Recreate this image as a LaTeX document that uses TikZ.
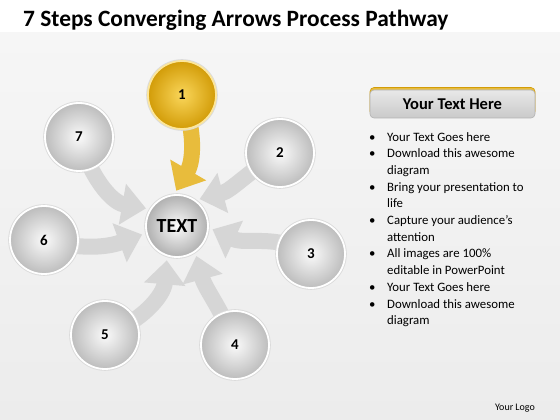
\documentclass[tikz,border=0pt]{standalone}
\usepackage{fontspec}
\setmainfont{Carlito}
\usetikzlibrary{arrows.meta}
\definecolor{goldA}{RGB}{250,214,90}
\definecolor{goldB}{RGB}{210,156,8}
\definecolor{goldC}{RGB}{232,188,60}
\definecolor{bgA}{RGB}{246,246,246}
\definecolor{bgB}{RGB}{236,236,236}
\pgfdeclarelayer{bg}
\pgfdeclarelayer{arrows}
\pgfsetlayers{bg,arrows,main}
\tikzset{
  ball/.style={circle, minimum size=68pt, inner sep=0pt, inner color=gray!4, outer color=gray!52,
    draw=white, line width=1.8pt, preaction={draw=gray!28, line width=3.6pt},
    font=\bfseries\fontsize{15}{15}\selectfont},
  goldball/.style={ball, inner color=goldA, outer color=goldB, draw=goldA!60!white},
  hubball/.style={ball, minimum size=62pt, inner color=gray!3, outer color=gray!62,
    font=\bfseries\fontsize{20}{20}\selectfont},
  arr/.style={line width=16pt, color=gray!32, -{Triangle[width=40pt,length=24pt]}, shorten >=4pt},
  goldarr/.style={arr, color=goldC},
  bodytext/.style={font=\fontsize{12.8}{16.7}\selectfont, align=left, inner sep=0pt, anchor=north west},
}
\begin{document}
\begin{tikzpicture}[x=1pt,y=1pt]
\useasboundingbox (0,0) rectangle (560,420);
\begin{pgfonlayer}{bg}
\fill[white] (0,0) rectangle (560,420);
\shade[top color=bgA, bottom color=bgB] (0,0) rectangle (560,387);
\end{pgfonlayer}

\node[anchor=base west, inner sep=0pt, font=\bfseries\fontsize{23.4}{25}\selectfont] (title) at (23,393) {7 Steps Converging Arrows Process Pathway};

\node[hubball] (ctr) at (177,194) {TEXT};
\node[goldball] (n1) at (182,325) {1};
\node[ball] (n2) at (280,267) {2};
\node[ball] (n3) at (311,166) {3};
\node[ball] (n4) at (235,75) {4};
\node[ball] (n5) at (105,85) {5};
\node[ball] (n6) at (44,180) {6};
\node[ball] (n7) at (79,283) {7};

\begin{pgfonlayer}{arrows}
\draw[goldarr] (n1.center) to[out=-70, in=60] (ctr.95);
\draw[arr] (n2.center) to[out=210, in=15] (ctr.54);
\draw[arr] (n3.center) to[out=150, in=-25] (ctr.-3);
\draw[arr] (n4.center) to[out=110, in=-75] (ctr.-55);
\draw[arr] (n5.center) to[out=20, in=-95] (ctr.-108);
\draw[arr] (n6.center) to[out=-15, in=200] (ctr.-167);
\draw[arr] (n7.center) to[out=-75, in=170] (ctr.148);
\end{pgfonlayer}

\node[minimum width=165pt, minimum height=28pt, rounded corners=4pt, top color=gray!18, bottom color=gray!42,
  draw=gray!60, line width=0.6pt, inner sep=0pt, font=\bfseries\fontsize{16.5}{16.5}\selectfont,
  preaction={fill=goldC, draw=goldB, line width=0.6pt, transform canvas={yshift=2.5pt}}] (hdr) at (452.5,316) {Your Text Here};

\node[bodytext] (list) at (369,288) {%
\makebox[18pt][l]{\textbullet}Your Text Goes here\\
\makebox[18pt][l]{\textbullet}Download this awesome\\
\makebox[18pt][l]{}diagram\\
\makebox[18pt][l]{\textbullet}Bring your presentation to\\
\makebox[18pt][l]{}life\\
\makebox[18pt][l]{\textbullet}Capture your audience’s\\
\makebox[18pt][l]{}attention\\
\makebox[18pt][l]{\textbullet}All images are 100\%\\
\makebox[18pt][l]{}editable in PowerPoint\\
\makebox[18pt][l]{\textbullet}Your Text Goes here\\
\makebox[18pt][l]{\textbullet}Download this awesome\\
\makebox[18pt][l]{}diagram};

\node[font=\fontsize{10}{10}\selectfont, inner sep=0pt] (logo) at (515,12) {Your Logo};
\end{tikzpicture}
\end{document}
